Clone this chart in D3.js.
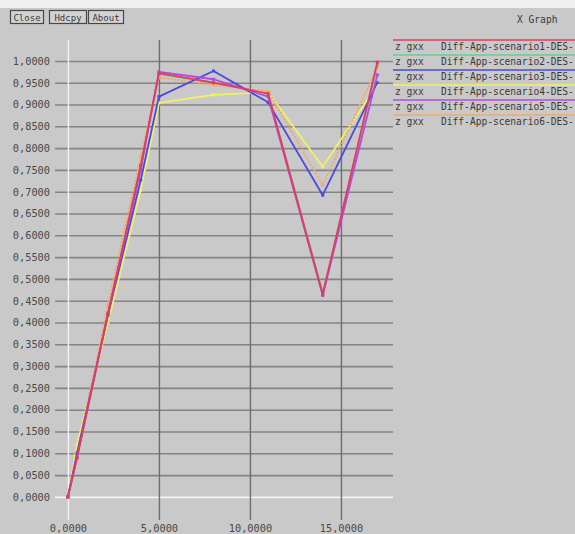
<!DOCTYPE html>
<html><head><meta charset="utf-8">
<script src="https://cdn.jsdelivr.net/npm/d3@7"></script>
<style>
html,body{margin:0;padding:0;background:#c9c9c9;}
svg{display:block;}
text{font-family:"DejaVu Sans Mono",monospace;}
</style></head><body>
<svg id="c" width="575" height="534"></svg>
<script>
// ---- data ----
const xValues = [0, 0.5, 2.2, 4, 5, 8, 11, 14, 17];
const seriesNames = ["Diff-App-scenario1-DES-","Diff-App-scenario2-DES-","Diff-App-scenario3-DES-","Diff-App-scenario4-DES-","Diff-App-scenario5-DES-","Diff-App-scenario6-DES-"];
const scenario1 = [0, 0.09, 0.42, 0.76, 0.972, 0.950, 0.925, 0.465, 0.997];
const scenario2 = [0, 0.09, 0.42, 0.76, 0.970, 0.950, 0.925, 0.468, 0.990];
const scenario3 = [0, 0.10, 0.417, 0.727, 0.918, 0.977, 0.905, 0.692, 0.950];
const scenario4 = [0, 0.12, 0.40, 0.704, 0.904, 0.922, 0.928, 0.757, 0.945];
const scenario5 = [0, 0.09, 0.42, 0.75, 0.975, 0.958, 0.918, 0.462, 0.968];
const scenario6 = [0, 0.10, 0.44, 0.78, 0.962, 0.945, 0.930, 0.715, 0.985];
const yTickValues = [0,0.05,0.1,0.15,0.2,0.25,0.3,0.35,0.4,0.45,0.5,0.55,0.6,0.65,0.7,0.75,0.8,0.85,0.9,0.95,1.0];
const xTickValues = [0, 5, 10, 15];
const buttonLabels = ["Close","Hdcpy","About"];
const legendPrefix = "z gxx";
const titleText = "X Graph";

const colors = ["#e43a5e","#66cc90","#4a4ae0","#f2f064","#b44ae0","#f0a868"];
const allSeries = [scenario1, scenario2, scenario3, scenario4, scenario5, scenario6];
const drawOrder = [1, 3, 5, 2, 4, 0];

const svg = d3.select("#c");
svg.append("rect").attr("width",575).attr("height",534).attr("fill","#c9c9c9");
svg.append("rect").attr("width",575).attr("height",8).attr("fill","#f0f0f0");

// buttons
const btnX = [10, 49, 88], btnW = [33, 37, 35];
buttonLabels.forEach((b,i)=>{
  svg.append("rect").attr("x",btnX[i]+0.5).attr("y",10.5).attr("width",btnW[i]).attr("height",13)
    .attr("fill","#d2d2d2").attr("stroke","#484848").attr("stroke-width",1.2);
  svg.append("text").attr("x",btnX[i]+btnW[i]/2+0.5).attr("y",20.5).attr("text-anchor","middle")
    .attr("font-size",9).attr("fill","#3a3a3a").text(b);
});
svg.append("text").attr("x",517).attr("y",23).attr("font-size",9.6).attr("fill","#3a3a3a").text(titleText);

// scales
const x = d3.scaleLinear().domain([-0.71, 17.86]).range([55, 393]);
const y = d3.scaleLinear().domain([-0.053, 1.048]).range([520, 40]);
const fmt = v => d3.format(".4f")(v).replace(".", ",");

// y axis / horizontal grid
const ya = svg.append("g").attr("transform","translate(55,0)")
  .call(d3.axisLeft(y).tickValues(yTickValues).tickSize(-338).tickPadding(5).tickFormat(fmt));
ya.select(".domain").remove();
ya.selectAll(".tick line").attr("stroke",d=>d===0?"#f4f4f4":"#848484").attr("stroke-width",1.6);
ya.selectAll(".tick text").attr("font-size",10.3).attr("fill","#4a4a4a")
  .attr("font-family","'DejaVu Sans Mono',monospace");

// x axis / vertical grid
const xa = svg.append("g").attr("transform","translate(0,520)")
  .call(d3.axisBottom(x).tickValues(xTickValues).tickSize(-480).tickPadding(4.5).tickFormat(fmt));
xa.select(".domain").remove();
xa.selectAll(".tick line").attr("stroke",d=>d===0?"#f4f4f4":"#6e6e6e").attr("stroke-width",1.4);
xa.selectAll(".tick text").attr("font-size",10.3).attr("fill","#4a4a4a")
  .attr("font-family","'DejaVu Sans Mono',monospace");

// series
const line = d3.line().x((d,i)=>x(xValues[i])).y(d=>y(d));
drawOrder.forEach(k=>{
  const s = allSeries[k];
  svg.append("path").datum(s).attr("d",line).attr("fill","none")
    .attr("stroke",colors[k]).attr("stroke-width",k===5?2:1.8)
    .attr("stroke-dasharray",k===5?"2,1.5":null).attr("stroke-linejoin","round");
  svg.append("g").selectAll("rect").data(s).join("rect")
    .attr("x",(d,i)=>x(xValues[i])-1.5).attr("y",d=>y(d)-1.5).attr("width",3).attr("height",3)
    .attr("fill",colors[k]);
});

// legend
seriesNames.forEach((n,i)=>{
  const ly = 40 + i*15;
  svg.append("line").attr("x1",393).attr("x2",575).attr("y1",ly).attr("y2",ly)
    .attr("stroke",colors[i]).attr("stroke-width",1.6);
  svg.append("text").attr("x",395).attr("y",ly+10).attr("font-size",9.6).attr("fill","#3a3a3a").text(legendPrefix);
  svg.append("text").attr("x",441).attr("y",ly+10).attr("font-size",9.6).attr("fill","#3a3a3a").text(n);
});
</script></body></html>
